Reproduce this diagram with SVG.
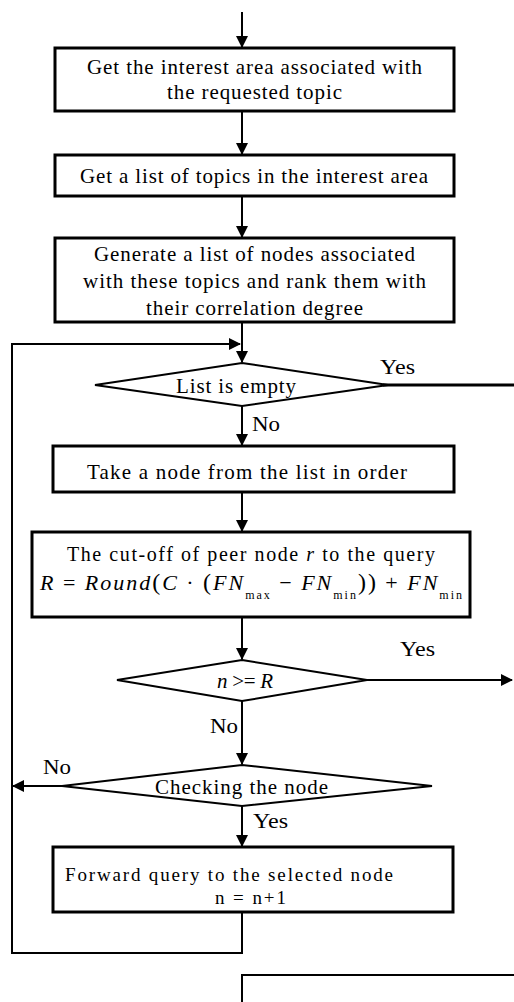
<svg xmlns="http://www.w3.org/2000/svg" width="514" height="1002" viewBox="0 0 514 1002">
<style>
.box{fill:#fff;stroke:#000;stroke-width:3}
.dia{fill:#fff;stroke:#000;stroke-width:2}
.t{font-family:"Liberation Serif","Times New Roman",serif;font-size:21px;fill:#000}
.i{font-style:italic}
.ln{fill:none;stroke:#000;stroke-width:2}
</style>
<defs>
<marker id="ah" markerWidth="12" markerHeight="12" refX="11" refY="6" orient="auto" markerUnits="userSpaceOnUse">
<path d="M0,0 L12,6 L0,12 Z" fill="#000"/>
</marker>
</defs>
<g id="connectors">
<line class="ln" x1="242" y1="12" x2="242" y2="47" marker-end="url(#ah)"/>
<line class="ln" x1="242" y1="111" x2="242" y2="154" marker-end="url(#ah)"/>
<line class="ln" x1="242" y1="196" x2="242" y2="237" marker-end="url(#ah)"/>
<line class="ln" x1="242" y1="322" x2="242" y2="362" marker-end="url(#ah)"/>
<polyline class="ln" points="12,953 12,344 240,344" marker-end="url(#ah)"/>
<line class="ln" x1="383" y1="385" x2="514" y2="385" style="stroke-width:3"/>
<line class="ln" x1="242" y1="406" x2="242" y2="445" marker-end="url(#ah)"/>
<line class="ln" x1="242" y1="492" x2="242" y2="531" marker-end="url(#ah)"/>
<line class="ln" x1="242" y1="617" x2="242" y2="659" marker-end="url(#ah)"/>
<line class="ln" x1="367" y1="680" x2="512" y2="680" marker-end="url(#ah)"/>
<line class="ln" x1="242" y1="701" x2="242" y2="764" marker-end="url(#ah)"/>
<line class="ln" x1="62" y1="786" x2="13" y2="786" marker-end="url(#ah)"/>
<line class="ln" x1="242" y1="806" x2="242" y2="846" marker-end="url(#ah)"/>
<polyline class="ln" points="242,912 242,953 11,953"/>
<polyline class="ln" points="242,1002 242,975 514,975"/>
<text class="t" x="380" y="374" textLength="35" lengthAdjust="spacingAndGlyphs">Yes</text>
<text class="t" x="252" y="431" textLength="28" lengthAdjust="spacingAndGlyphs">No</text>
<text class="t" x="400" y="656" textLength="35" lengthAdjust="spacingAndGlyphs">Yes</text>
<text class="t" x="210" y="733" textLength="28" lengthAdjust="spacingAndGlyphs">No</text>
<text class="t" x="43" y="774" textLength="28" lengthAdjust="spacingAndGlyphs">No</text>
<text class="t" x="253" y="828" textLength="35" lengthAdjust="spacingAndGlyphs">Yes</text>
</g>
<g id="n1">
<rect class="box" x="55" y="48" width="399" height="63"/>
<text class="t" x="87" y="74" textLength="335" lengthAdjust="spacing">Get the interest area associated with</text>
<text class="t" x="167" y="99" textLength="175" lengthAdjust="spacing">the requested topic</text>
</g>
<g id="n2">
<rect class="box" x="55" y="155" width="399" height="41"/>
<text class="t" x="80" y="183" textLength="348" lengthAdjust="spacing">Get a list of topics in the interest area</text>
</g>
<g id="n3">
<rect class="box" x="55" y="238" width="399" height="84"/>
<text class="t" x="94" y="261" textLength="321" lengthAdjust="spacing">Generate a list of nodes associated</text>
<text class="t" x="83" y="288" textLength="343" lengthAdjust="spacing">with these topics and rank them with</text>
<text class="t" x="146" y="315" textLength="217" lengthAdjust="spacing">their correlation degree</text>
</g>
<g id="d1">
<polygon class="dia" points="242,363 388,385 242,406 95,385"/>
<text class="t" x="176" y="393" textLength="120" lengthAdjust="spacing">List is empty</text>
</g>
<g id="n4">
<rect class="box" x="53" y="446" width="401" height="46"/>
<text class="t" x="87" y="479" textLength="320" lengthAdjust="spacing">Take a node from the list in order</text>
</g>
<g id="n5">
<rect class="box" x="32" y="532" width="438" height="85"/>
<text class="t" x="67" y="561" style="font-size:20px" textLength="368" lengthAdjust="spacing">The cut-off of peer node <tspan class="i">r</tspan> to the query</text>
<text class="t i" x="40" y="590" style="font-size:22px" textLength="422" lengthAdjust="spacing">R<tspan font-style="normal"> = </tspan>Round<tspan font-style="normal" font-size="24">(</tspan>C<tspan font-style="normal"> · </tspan><tspan font-style="normal" font-size="24">(</tspan>FN<tspan font-style="normal" font-size="12" dy="9">max</tspan><tspan font-style="normal" dy="-9">  − </tspan>FN<tspan font-style="normal" font-size="12" dy="9">min</tspan><tspan font-style="normal" font-size="24" dy="-9">))</tspan><tspan font-style="normal"> + </tspan>FN<tspan font-style="normal" font-size="12" dy="9">min</tspan></text>
</g>
<g id="d2">
<polygon class="dia" points="242,660 367,680 242,701 117,680"/>
<text class="t i" x="217" y="688" textLength="56" lengthAdjust="spacing">n<tspan font-style="normal"> &gt;= </tspan>R</text>
</g>
<g id="d3">
<polygon class="dia" points="242,765 432,786 242,806 62,786"/>
<text class="t" x="155" y="794" textLength="173" lengthAdjust="spacing">Checking the node</text>
</g>
<g id="n6">
<rect class="box" x="53" y="847" width="400" height="65"/>
<text class="t" x="65" y="881" style="font-size:19px" textLength="328" lengthAdjust="spacing">Forward query to the selected node</text>
<text class="t" x="215" y="904" style="font-size:19px" textLength="71" lengthAdjust="spacing">n = n+1</text>
</g>
</svg>
